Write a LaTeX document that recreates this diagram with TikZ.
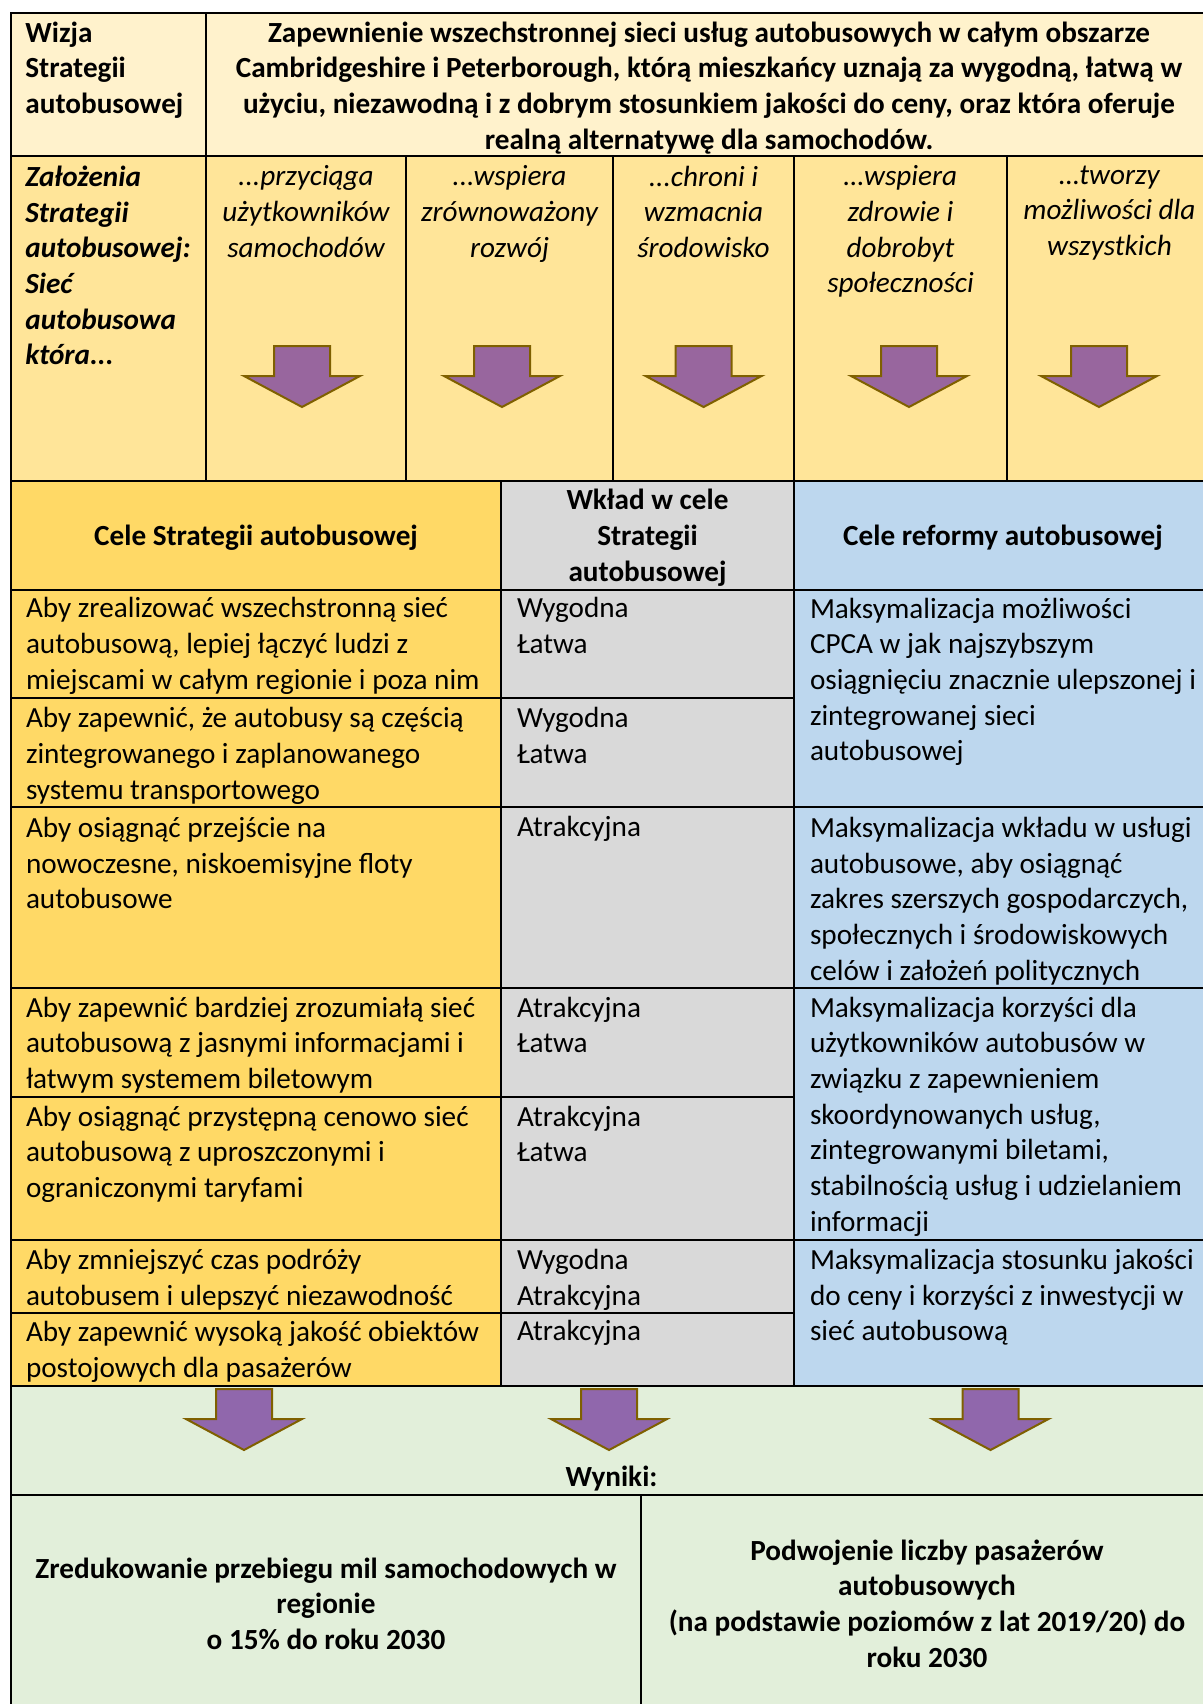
\documentclass[tikz,border=0pt]{standalone}
\usepackage{fontspec}
\setmainfont{Carlito}
\definecolor{vis}{HTML}{FFF2CC}
\definecolor{pri}{HTML}{FFE599}
\definecolor{obj}{HTML}{FFD966}
\definecolor{con}{HTML}{D9D9D9}
\definecolor{ref}{HTML}{BDD7EE}
\definecolor{res}{HTML}{E2EFDA}
\definecolor{arrA}{HTML}{98669E}
\definecolor{arrB}{HTML}{9067AC}
\definecolor{arrEdge}{HTML}{7F6000}
\newcommand{\cellfont}{\fontsize{14.6}{17.85}\selectfont}
\newcommand{\topstrut}{\rule{0pt}{12.5pt}}
\tikzset{
  grid/.style={line width=1pt, draw=black},
  txt/.style={anchor=north west, yshift=9.8pt, align=left, inner sep=0pt, font=\cellfont, execute at begin node=\topstrut},
  ctxt/.style={anchor=north, yshift=9.8pt, align=center, inner sep=0pt, font=\cellfont, execute at begin node=\topstrut},
  single/.style={yshift=2.7pt},
  btxt/.style={ctxt, font=\cellfont\bfseries},
  bltxt/.style={txt, font=\cellfont\bfseries},
  itxt/.style={ctxt, font=\cellfont\itshape},
  bitxt/.style={txt, font=\cellfont\bfseries\itshape},
  arrowshape/.style={draw=arrEdge, line width=1pt, line join=miter}
}
\newcommand{\downarrowshape}[4]{% cx, top y, fill, name
  \path[arrowshape, fill=#3] (#1-28,#2) -- (#1+28,#2) -- (#1+28,#2+30) -- (#1+58,#2+30)
     -- (#1,#2+61) -- (#1-58,#2+30) -- (#1-28,#2+30) -- cycle;
  \coordinate (#4) at (#1,#2+30);
}
\begin{document}
\begin{tikzpicture}[x=0.5pt,y=-0.5pt]
\useasboundingbox (0,0) rectangle (1203,1704);
\clip (0,0) rectangle (1203,1704);
\fill[white] (0,0) rectangle (1203,1704);
% backgrounds
\fill[vis] (11,13.3) rectangle (1212,156);
\fill[pri] (11,156) rectangle (1212,481);
\fill[obj] (11,481) rectangle (501.3,1386);
\fill[con] (501.3,481) rectangle (794,1386);
\fill[ref] (794,481) rectangle (1212,1386);
\fill[res] (11,1386) rectangle (1212,1712);
% grid lines
\draw[grid] (11,1712) -- (11,13.3) -- (1212,13.3);
\foreach \yy in {156,481,590,1386,1495} \draw[grid] (11,\yy) -- (1212,\yy);
\draw[grid] (206,13.3) -- (206,481);
\foreach \xx in {406,613,794,1007} \draw[grid] (\xx,156) -- (\xx,481);
\draw[grid] (501.3,481) -- (501.3,1386);
\draw[grid] (794,481) -- (794,1386);
\foreach \yy in {698.3,806.7,988.3,1096.7,1240,1313.3} \draw[grid] (11,\yy) -- (794,\yy);
\foreach \yy in {806.7,988.3,1240} \draw[grid] (794,\yy) -- (1212,\yy);
\draw[grid] (641,1495) -- (641,1712);
% vision row
\node[bltxt] (vlabel) at (25,41) {Wizja\\Strategii\\autobusowej};
\node[btxt] (vtext) at (709,41) {Zapewnienie wszechstronnej sieci usług autobusowych w całym obszarze\\Cambridgeshire i Peterborough, którą mieszkańcy uznają za wygodną, łatwą w\\użyciu, niezawodną i z dobrym stosunkiem jakości do ceny, oraz która oferuje\\realną alternatywę dla samochodów.};
% principles row
\node[bitxt] (plabel) at (25,185) {Założenia\\Strategii\\autobusowej:\\Sieć\\autobusowa\\która...};
\node[itxt] (p1) at (306,185) {...przyciąga\\użytkowników\\samochodów};
\node[itxt] (p2) at (509.5,185) {...wspiera\\zrównoważony\\rozwój};
\node[itxt] (p3) at (703.5,185) {...chroni i\\wzmacnia\\środowisko};
\node[itxt] (p4) at (900.5,185) {…wspiera\\zdrowie i\\dobrobyt\\społeczności};
\node[itxt] (p5) at (1109.5,185) {…tworzy\\możliwości dla\\wszystkich};
\downarrowshape{302}{346}{arrA}{a1}
\downarrowshape{502}{346}{arrA}{a2}
\downarrowshape{703.6}{346}{arrA}{a3}
\downarrowshape{909}{346}{arrA}{a4}
\downarrowshape{1099}{346}{arrA}{a5}
% header row
\node[btxt, single] (h1) at (256,545) {Cele Strategii autobusowej};
\node[btxt] (h2) at (647.5,508.5) {Wkład w cele\\Strategii\\autobusowej};
\node[btxt, single] (h3) at (1003,545) {Cele reformy autobusowej};
% objectives
\node[txt] (o1) at (25.6,616.7) {Aby zrealizować wszechstronną sieć\\autobusową, lepiej łączyć ludzi z\\miejscami w całym regionie i poza nim};
\node[txt] (o2) at (25.6,726.7) {Aby zapewnić, że autobusy są częścią\\zintegrowanego i zaplanowanego\\systemu transportowego};
\node[txt] (o3) at (25.6,836.5) {Aby osiągnąć przejście na\\nowoczesne, niskoemisyjne floty\\autobusowe};
\node[txt] (o4) at (25.6,1016) {Aby zapewnić bardziej zrozumiałą sieć\\autobusową z jasnymi informacjami i\\łatwym systemem biletowym};
\node[txt] (o5) at (25.6,1125) {Aby osiągnąć przystępną cenowo sieć\\autobusową z uproszczonymi i\\ograniczonymi taryfami};
\node[txt] (o6) at (25.6,1268.3) {Aby zmniejszyć czas podróży\\autobusem i ulepszyć niezawodność};
\node[txt] (o7) at (25.6,1340.5) {Aby zapewnić wysoką jakość obiektów\\postojowych dla pasażerów};
% contributions
\node[txt] (c1) at (516.6,616.7) {Wygodna\\Łatwa};
\node[txt] (c2) at (516.6,726.7) {Wygodna\\Łatwa};
\node[txt, single] (c3) at (516.6,836.5) {Atrakcyjna};
\node[txt] (c4) at (516.6,1016) {Atrakcyjna\\Łatwa};
\node[txt] (c5) at (516.6,1125) {Atrakcyjna\\Łatwa};
\node[txt] (c6) at (516.6,1268.3) {Wygodna\\Atrakcyjna};
\node[txt, single] (c7) at (516.6,1340.5) {Atrakcyjna};
% reform objectives
\node[txt] (r1) at (809.6,617) {Maksymalizacja możliwości\\CPCA w jak najszybszym\\osiągnięciu znacznie ulepszonej i\\zintegrowanej sieci\\autobusowej};
\node[txt] (r2) at (809.6,836.5) {Maksymalizacja wkładu w usługi\\autobusowe, aby osiągnąć\\zakres szerszych gospodarczych,\\społecznych i środowiskowych\\celów i założeń politycznych};
\node[txt] (r3) at (809.6,1016) {Maksymalizacja korzyści dla\\użytkowników autobusów w\\związku z zapewnieniem\\skoordynowanych usług,\\zintegrowanymi biletami,\\stabilnością usług i udzielaniem\\informacji};
\node[txt] (r4) at (809.6,1268.3) {Maksymalizacja stosunku jakości\\do ceny i korzyści z inwestycji w\\sieć autobusową};
% results
\downarrowshape{244}{1389}{arrB}{b1}
\downarrowshape{609}{1389}{arrB}{b2}
\downarrowshape{990.5}{1389}{arrB}{b3}
\node[btxt, single] (wyn) at (611.5,1486) {Wyniki:};
\node[btxt] (out1) at (326,1576.7) {Zredukowanie przebiegu mil samochodowych w\\regionie\\o 15\% do roku 2030};
\node[btxt] (out2) at (927,1558.7) {Podwojenie liczby pasażerów\\autobusowych\\(na podstawie poziomów z lat 2019/20) do\\roku 2030};
\end{tikzpicture}
\end{document}
